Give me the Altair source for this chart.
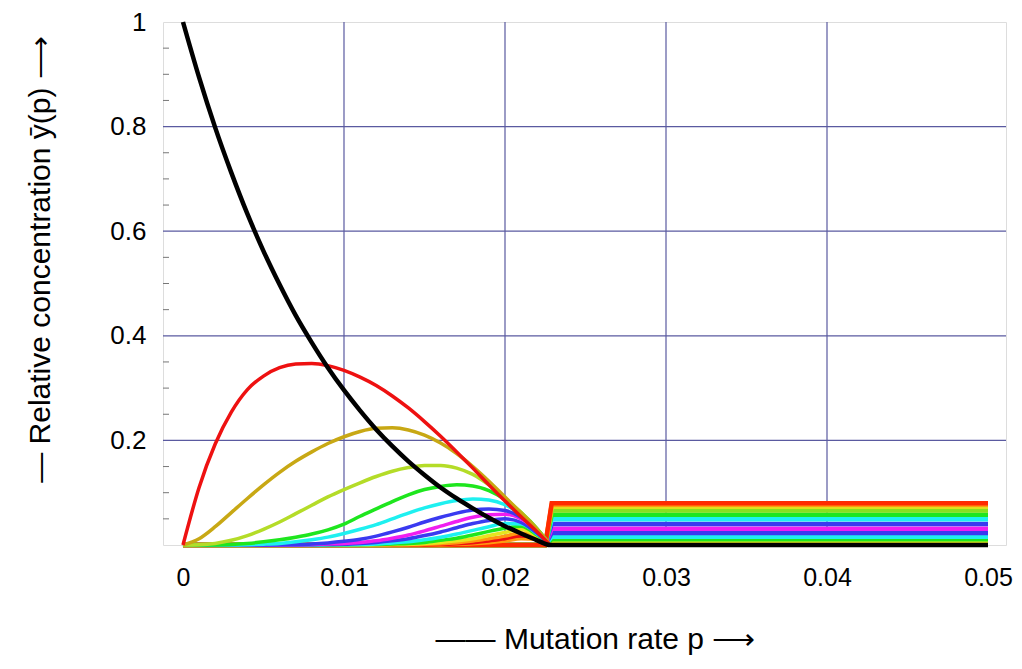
import altair as alt
import pandas as pd

# ---------------- data ----------------
P_GRID = [0.0, 0.001, 0.002, 0.003, 0.004, 0.005, 0.006, 0.007, 0.008, 0.009,
          0.010, 0.011, 0.012, 0.013, 0.014, 0.015, 0.016, 0.017, 0.018, 0.019,
          0.020, 0.021, 0.022, 0.0228]
P_END = 0.05

MASTER = [1.0, 0.894, 0.798, 0.712, 0.633, 0.562, 0.498, 0.439, 0.387, 0.339,
          0.296, 0.257, 0.221, 0.189, 0.160, 0.134, 0.110, 0.089, 0.070, 0.052,
          0.036, 0.022, 0.009, 0.0]

CLASS_1 = [0.0, 0.110, 0.193, 0.254, 0.297, 0.323, 0.339, 0.346, 0.347, 0.343,
           0.334, 0.321, 0.305, 0.285, 0.262, 0.236, 0.208, 0.178, 0.147, 0.115,
           0.084, 0.054, 0.025, 0.0]
CLASS_2 = [0.0, 0.012, 0.035, 0.062, 0.089, 0.115, 0.139, 0.160, 0.178, 0.194,
           0.207, 0.217, 0.223, 0.224, 0.220, 0.210, 0.195, 0.175, 0.150, 0.122,
           0.092, 0.061, 0.030, 0.0]
CLASS_3 = [0.0, 0.0005, 0.003, 0.009, 0.018, 0.030, 0.044, 0.060, 0.076, 0.092,
           0.106, 0.119, 0.131, 0.141, 0.148, 0.152, 0.152, 0.147, 0.135, 0.115,
           0.090, 0.062, 0.030, 0.0]
CLASS_4 = [0.0, 0.0, 0.0002, 0.001, 0.003, 0.006, 0.010, 0.015, 0.021, 0.029,
           0.040, 0.055, 0.069, 0.083, 0.096, 0.106, 0.112, 0.115, 0.113, 0.104,
           0.087, 0.062, 0.031, 0.0]
CLASS_5 = [0.0, 0.0, 0.0, 0.0, 0.0005, 0.0015, 0.003, 0.006, 0.010, 0.015,
           0.022, 0.030, 0.039, 0.050, 0.061, 0.071, 0.079, 0.085, 0.088, 0.086,
           0.077, 0.058, 0.030, 0.0]
CLASS_6 = [0.0, 0.0, 0.0, 0.0, 0.0, 0.0002, 0.0005, 0.001, 0.002, 0.004,
           0.007, 0.011, 0.017, 0.025, 0.034, 0.044, 0.053, 0.061, 0.067, 0.069,
           0.066, 0.053, 0.028, 0.0]
CLASS_7 = [0.0, 0.0, 0.0, 0.0, 0.0, 0.0, 0.0002, 0.0005, 0.001, 0.002,
           0.003, 0.005, 0.008, 0.013, 0.019, 0.027, 0.036, 0.045, 0.053, 0.058,
           0.059, 0.050, 0.027, 0.0]
CLASS_8 = [0.0, 0.0, 0.0, 0.0, 0.0, 0.0, 0.0, 0.0, 0.0005, 0.001,
           0.0015, 0.003, 0.005, 0.008, 0.012, 0.018, 0.025, 0.033, 0.041, 0.047,
           0.050, 0.043, 0.022, 0.0]
CLASS_9 = [0.0, 0.0, 0.0, 0.0, 0.0, 0.0, 0.0, 0.0, 0.0, 0.0003,
           0.0006, 0.001, 0.002, 0.004, 0.006, 0.010, 0.015, 0.021, 0.028, 0.035,
           0.041, 0.040, 0.021, 0.0]
CLASS_10 = [0.0, 0.0, 0.0, 0.0, 0.0, 0.0, 0.0, 0.0, 0.0, 0.0,
            0.0002, 0.0005, 0.001, 0.002, 0.003, 0.005, 0.009, 0.013, 0.019, 0.026,
            0.032, 0.036, 0.019, 0.0]
CLASS_11 = [0.0, 0.0, 0.0, 0.0, 0.0, 0.0, 0.0, 0.0, 0.0, 0.0,
            0.0, 0.0, 0.0004, 0.0008, 0.0015, 0.003, 0.005, 0.008, 0.012, 0.018,
            0.024, 0.030, 0.017, 0.0]
CLASS_12 = [0.0, 0.0, 0.0, 0.0, 0.0, 0.0, 0.0, 0.0, 0.0, 0.0,
            0.0, 0.0, 0.0, 0.0003, 0.0007, 0.0013, 0.0025, 0.0045, 0.0075, 0.012,
            0.017, 0.023, 0.015, 0.0]
CLASS_13 = [0.0, 0.0, 0.0, 0.0, 0.0, 0.0, 0.0, 0.0, 0.0, 0.0,
            0.0, 0.0, 0.0, 0.0, 0.0003, 0.0006, 0.0012, 0.0025, 0.0045, 0.0075,
            0.012, 0.017, 0.013, 0.0]
CLASS_14 = [0.0, 0.0, 0.0, 0.0, 0.0, 0.0, 0.0, 0.0, 0.0, 0.0,
            0.0, 0.0, 0.0, 0.0, 0.0, 0.0003, 0.0006, 0.0013, 0.0025, 0.0045,
            0.0075, 0.012, 0.011, 0.0]

CLASS_COLORS = ["#ee1111", "#c8a814", "#b4dc28", "#1ee61e", "#1ef0f0", "#3a3af0",
                "#f01ef0", "#3a3af0", "#1ef0f0", "#1ee61e", "#e6e61e", "#ff9a10",
                "#ee1111", "#ff9a10"]

# plateau above the error threshold
P_FLAT = [0.0, 0.0225, 0.0229, 0.05]
FLAT_LEVELS = [0.0016, 0.0027, 0.0045, 0.007, 0.011, 0.016, 0.023, 0.031,
               0.040, 0.049, 0.058, 0.066, 0.073, 0.077, 0.080]
FLAT_COLORS = ["#ff9a10", "#ee1111", "#ff9a10", "#e6e61e", "#1ee61e", "#1ef0f0",
               "#3a3af0", "#f01ef0", "#3a3af0", "#1ef0f0", "#1ee61e", "#88e01e",
               "#dde01e", "#ff9a10", "#ff2a00"]

X_TICKS = [0.0, 0.01, 0.02, 0.03, 0.04, 0.05]
Y_TICKS = [0.2, 0.4, 0.6, 0.8, 1.0]
X_GRID = [0.01, 0.02, 0.03, 0.04]
Y_GRID = [0.2, 0.4, 0.6, 0.8]
Y_MINOR = [0.05, 0.1, 0.15, 0.25, 0.3, 0.35, 0.45, 0.5, 0.55, 0.65, 0.7, 0.75,
           0.85, 0.9, 0.95]

# ---------------- chart ----------------
FONT = "Liberation Sans"
GRID_COLOR = "#5a5aa0"

x_enc = alt.X("p:Q",
              scale=alt.Scale(domain=[-0.001242, 0.051118], nice=False, zero=False),
              axis=alt.Axis(values=X_TICKS, format=".2~f",
                            title="——   Mutation rate   p  ⟶",
                            labelFont=FONT, labelFontSize=25, labelColor="black",
                            labelPadding=20, labelFlush=False,
                            ticks=False, tickSize=0, domain=False, grid=False,
                            titleFont=FONT, titleFontSize=30, titleFontWeight="normal",
                            titleColor="black", titleX=432, titleY=103,
                            titleBaseline="alphabetic", titleAlign="center"))
y_enc = alt.Y("y:Q",
              scale=alt.Scale(domain=[0, 1], nice=False, zero=False),
              axis=alt.Axis(values=Y_TICKS, format=".1~f",
                            title="—  Relative concentration    ȳ(p)   ⟶",
                            labelFont=FONT, labelFontSize=26, labelColor="black",
                            labelPadding=17, labelFlush=False,
                            ticks=False, tickSize=0, domain=False, grid=False,
                            titleFont=FONT, titleFontSize=30, titleFontWeight="normal",
                            titleColor="black", titleX=-114, titleY=237,
                            titleAngle=270, titleBaseline="alphabetic",
                            titleAlign="center"))

layers = []

vgrid = alt.Chart(pd.DataFrame({"p": X_GRID})).mark_rule(
    color=GRID_COLOR, strokeWidth=1.2).encode(x=x_enc)
hgrid = alt.Chart(pd.DataFrame({"y": Y_GRID})).mark_rule(
    color=GRID_COLOR, strokeWidth=1.2).encode(y=y_enc)
minor = alt.Chart(pd.DataFrame({"y": Y_MINOR})).mark_rule(
    color="#777777", strokeWidth=1).encode(y=y_enc, x=alt.value(0), x2=alt.value(6))
layers += [vgrid, hgrid, minor]

# plateau lines (drawn first, from the lowest to the highest)
for lvl, col in zip(FLAT_LEVELS, FLAT_COLORS):
    df = pd.DataFrame({"p": P_FLAT, "y": [0.0, 0.0, lvl, lvl]})
    layers.append(alt.Chart(df).mark_line(color=col, strokeWidth=4.5).encode(x=x_enc, y=y_enc))

CLASSES = [CLASS_1, CLASS_2, CLASS_3, CLASS_4, CLASS_5, CLASS_6, CLASS_7,
           CLASS_8, CLASS_9, CLASS_10, CLASS_11, CLASS_12, CLASS_13, CLASS_14]
for vals, col in reversed(list(zip(CLASSES, CLASS_COLORS))):
    df = pd.DataFrame({"p": P_GRID, "y": vals})
    layers.append(alt.Chart(df).mark_line(color=col, strokeWidth=3.5,
                                          interpolate="monotone").encode(x=x_enc, y=y_enc))

master_df = pd.DataFrame({"p": P_GRID + [P_END], "y": MASTER + [0.0]})
layers.append(alt.Chart(master_df).mark_line(color="black", strokeWidth=4.5,
                                             interpolate="monotone").encode(x=x_enc, y=y_enc))

chart = alt.layer(*layers).properties(
    width=843, height=523,
    padding={"left": 155, "top": 14, "right": 8, "bottom": 110},
    autosize=alt.AutoSizeParams(type="none"),
).configure_view(stroke="#808080", strokeWidth=1).configure(background="white")

chart.save("out.html", embed_options={"renderer": "svg", "actions": False})
